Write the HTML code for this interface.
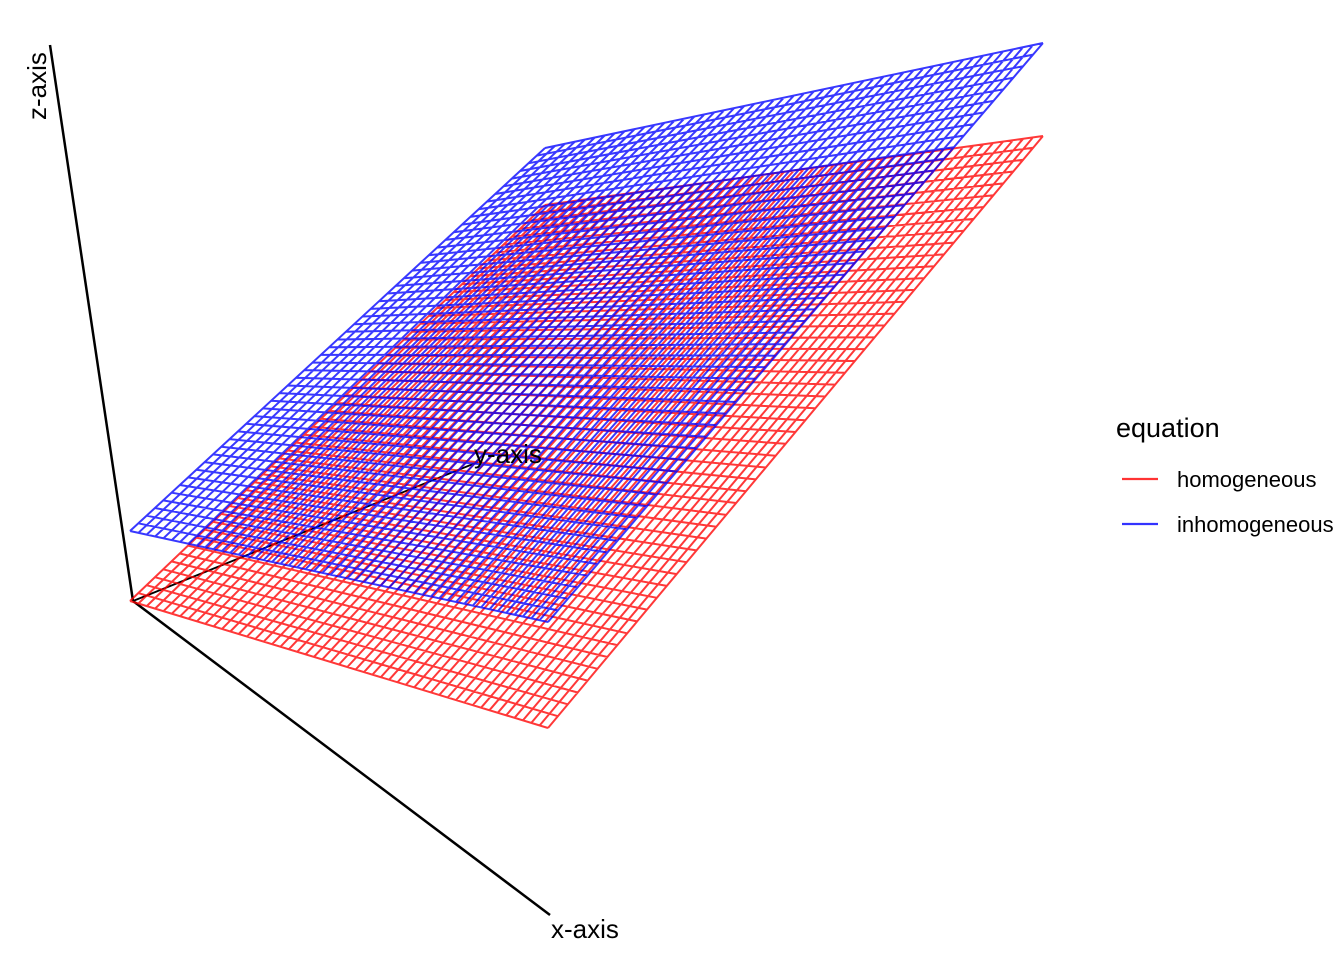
<!DOCTYPE html>
<html><head><meta charset="utf-8"><style>
html,body{margin:0;padding:0;background:#fff;}
svg{display:block;font-family:"Liberation Sans",Arial,sans-serif;}
</style></head><body>
<svg id="chart" width="1344" height="960" viewBox="0 0 1344 960">
  <g id="axes">
    <line x1="133" y1="601" x2="550" y2="915" stroke="#000" stroke-width="2.5"/>
    <line x1="133" y1="601" x2="50" y2="45" stroke="#000" stroke-width="2.5"/>
    <line x1="133" y1="601" x2="478" y2="462" stroke="#000" stroke-width="1.8"/>
  </g>
  <g id="surfaces"></g>
  <text x="551" y="938" font-size="26" fill="#000">x-axis</text>
  <text x="474" y="463" font-size="26" fill="#000">y-axis</text>
  <text transform="translate(46,120) rotate(-90)" font-size="26" fill="#000">z-axis</text>
  <g>
    <text x="1116" y="437" font-size="27" fill="#000">equation</text>
    <g>
      <line x1="1122" y1="479" x2="1158" y2="479" stroke="#ff0000" stroke-opacity="0.8" stroke-width="2.2"/>
      <text x="1177" y="487" font-size="22" fill="#000">homogeneous</text>
    </g>
    <g>
      <line x1="1122" y1="524" x2="1158" y2="524" stroke="#0000ff" stroke-opacity="0.8" stroke-width="2.2"/>
      <text x="1177" y="532" font-size="22" fill="#000">inhomogeneous</text>
    </g>
  </g>
</svg>
<script>
// grid resolution
const gridN = 50;
// surface heights at corners [z00, z10, z01, z11] (x,y in 0..1)
const seriesNames = ["homogeneous", "inhomogeneous"];
const homogeneousZ = [0, 1.87, 3.55, 5.64];
const inhomogeneousZ = [0.7, 2.93, 4.12, 6.57];
const seriesColors = ["#ff0000", "#0000ff"];

// projection: ground plane (bilinear) plus vertical z
const G = [[130,601],[548,915],[545,560],[1043,700]];
const zScale = 100;
function project(x, y, z) {
  const a=(1-x)*(1-y), b=x*(1-y), c=(1-x)*y, d=x*y;
  const px = a*G[0][0]+b*G[1][0]+c*G[2][0]+d*G[3][0];
  const py = a*G[0][1]+b*G[1][1]+c*G[2][1]+d*G[3][1];
  return [px, py - z*zScale];
}
function zAt(zc, x, y) {
  return (1-x)*(1-y)*zc[0] + x*(1-y)*zc[1] + (1-x)*y*zc[2] + x*y*zc[3];
}
const NS = "http://www.w3.org/2000/svg";
const host = document.getElementById("surfaces");
[homogeneousZ, inhomogeneousZ].forEach((zc, si) => {
  const g = document.createElementNS(NS, "g");
  
  
  let d = "";
  for (let i = 0; i <= gridN; i++) {
    const t = i / gridN;
    let p0 = project(0, t, zAt(zc, 0, t)), p1 = project(1, t, zAt(zc, 1, t));
    d += "M" + p0[0].toFixed(1) + " " + p0[1].toFixed(1) + "L" + p1[0].toFixed(1) + " " + p1[1].toFixed(1);
    p0 = project(t, 0, zAt(zc, t, 0)); p1 = project(t, 1, zAt(zc, t, 1));
    d += "M" + p0[0].toFixed(1) + " " + p0[1].toFixed(1) + "L" + p1[0].toFixed(1) + " " + p1[1].toFixed(1);
  }
  const path = document.createElementNS(NS, "path");
  path.setAttribute("d", d);
  path.setAttribute("fill", "none");
  path.setAttribute("stroke", seriesColors[si]);
  path.setAttribute("stroke-opacity", "0.78");
  path.setAttribute("stroke-width", "2");
  
  
  g.appendChild(path);
  host.appendChild(g);
});
</script>
</body></html>
